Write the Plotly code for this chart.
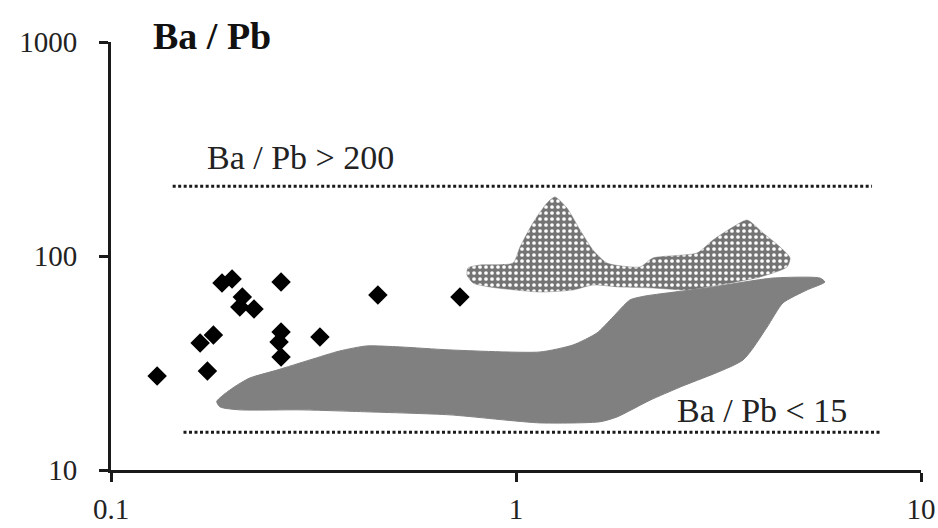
import plotly.graph_objects as go

# Data points (diamonds)
pts_x = [0.130, 0.173, 0.166, 0.179, 0.188, 0.199, 0.211, 0.208, 0.2255,
         0.263, 0.263, 0.260, 0.263, 0.328, 0.456, 0.727]
pts_y = [27.5, 29.0, 39.2, 42.7, 74.8, 78.1, 64.3, 57.8, 56.5,
         75.6, 44.1, 39.6, 33.7, 41.8, 65.7, 64.3]

# Solid grey field outline
grey_x = [0.1824, 0.200, 0.220, 0.257, 0.310, 0.367, 0.428, 0.517, 0.687, 1.146,
          1.383, 1.585, 1.736, 1.911, 2.083, 2.962, 4.312, 5.63, 5.79,
          5.23, 4.56, 4.17, 3.636, 2.541, 2.143, 1.776, 1.612, 1.146, 0.687,
          0.428, 0.293, 0.208, 0.186]
grey_y = [20.9, 24.2, 26.9, 29.3, 32.7, 36.0, 38.0, 37.6, 36.4, 35.6,
          38.4, 43.7, 51.9, 62.3, 65.0, 70.9, 78.9, 78.9, 75.6,
          69.4, 60.3, 46.6, 32.7, 24.4, 21.2, 17.7, 16.8, 16.6, 18.1,
          18.7, 19.1, 19.1, 19.7]

# Dotted (patterned) field outline
dot_x = [0.757, 0.761, 0.815, 0.983, 1.023, 1.101, 1.193, 1.248, 1.336, 1.439,
         1.549, 1.678, 2.024, 2.179, 2.799, 3.065, 3.434, 3.72, 4.073, 4.487,
         4.749, 4.668, 4.005, 3.189, 2.643, 2.179, 1.806, 1.549, 1.383, 1.146,
         0.863, 0.783]
dot_y = [81.5, 87.9, 90.8, 92.7, 110.2, 142.6, 177.0, 188.7, 167.5, 132.3,
         106.7, 92.7, 88.9, 97.9, 103.3, 118.8, 136.6, 147.3, 128.1, 110.2,
         97.9, 88.9, 79.8, 73.2, 69.4, 70.9, 71.6, 73.2, 69.4, 67.9,
         71.6, 74.8]

# Reference lines
upper_line_x = [0.142, 7.57]
upper_line_y = [212, 212]
lower_line_x = [0.151, 7.9]
lower_line_y = [15, 15]

x_ticks = [0.1, 1, 10]
x_ticktext = ["0.1", "1", "10"]
y_ticks = [10, 100, 1000]
y_ticktext = ["10", "100", "1000"]

FONT = "Liberation Serif"

fig = go.Figure()

fig.add_trace(go.Scatter(
    x=grey_x + [grey_x[0]], y=grey_y + [grey_y[0]], mode="lines",
    fill="toself", fillcolor="#808080",
    line=dict(color="#808080", width=1, shape="spline", smoothing=0.6),
    hoverinfo="skip", showlegend=False))

fig.add_trace(go.Scatter(
    x=dot_x + [dot_x[0]], y=dot_y + [dot_y[0]], mode="lines",
    fill="toself",
    fillpattern=dict(shape=".", bgcolor="#747474", fgcolor="#ffffff",
                     size=6, solidity=0.3, fillmode="replace"),
    line=dict(color="#808080", width=0.5, shape="spline", smoothing=0.6),
    hoverinfo="skip", showlegend=False))

for lx, ly in [(upper_line_x, upper_line_y), (lower_line_x, lower_line_y)]:
    fig.add_trace(go.Scatter(
        x=lx, y=ly, mode="lines",
        line=dict(color="#1a1a1a", width=3, dash="3px,2.5px"),
        hoverinfo="skip", showlegend=False))

fig.add_trace(go.Scatter(
    x=pts_x, y=pts_y, mode="markers",
    marker=dict(symbol="diamond", size=15, color="#000000", line=dict(width=0)),
    showlegend=False))

axis_common = dict(
    showgrid=False, zeroline=False, showline=True, linecolor="#1a1a1a",
    linewidth=3, ticks="outside", ticklen=9, tickwidth=3, tickcolor="#1a1a1a",
    tickfont=dict(family=FONT, size=29, color="#222222"),
    automargin=False,
)

fig.update_xaxes(type="log", range=[-1, 1], tickvals=x_ticks,
                 ticktext=x_ticktext, ticklabelstandoff=2, **axis_common)
fig.update_yaxes(type="log", range=[1, 3], tickvals=y_ticks,
                 ticktext=y_ticktext, ticklabelstandoff=16, **axis_common)

fig.add_annotation(text="<b>Ba / Pb</b>", xref="paper", yref="paper",
                   x=0.1247, y=1.014, xanchor="center", yanchor="middle",
                   showarrow=False,
                   font=dict(family=FONT, size=38, color="#111111"))
fig.add_annotation(text="Ba / Pb > 200", x=-0.533, y=2.458,
                   xanchor="center", yanchor="middle", showarrow=False,
                   font=dict(family=FONT, size=34, color="#222222"))
fig.add_annotation(text="Ba / Pb < 15", x=0.607, y=1.280,
                   xanchor="center", yanchor="middle", showarrow=False,
                   font=dict(family=FONT, size=34, color="#222222"))

fig.update_layout(
    width=938, height=528,
    margin=dict(l=111, r=17, t=42, b=58),
    paper_bgcolor="white", plot_bgcolor="white",
)

fig.write_html("out.html")
